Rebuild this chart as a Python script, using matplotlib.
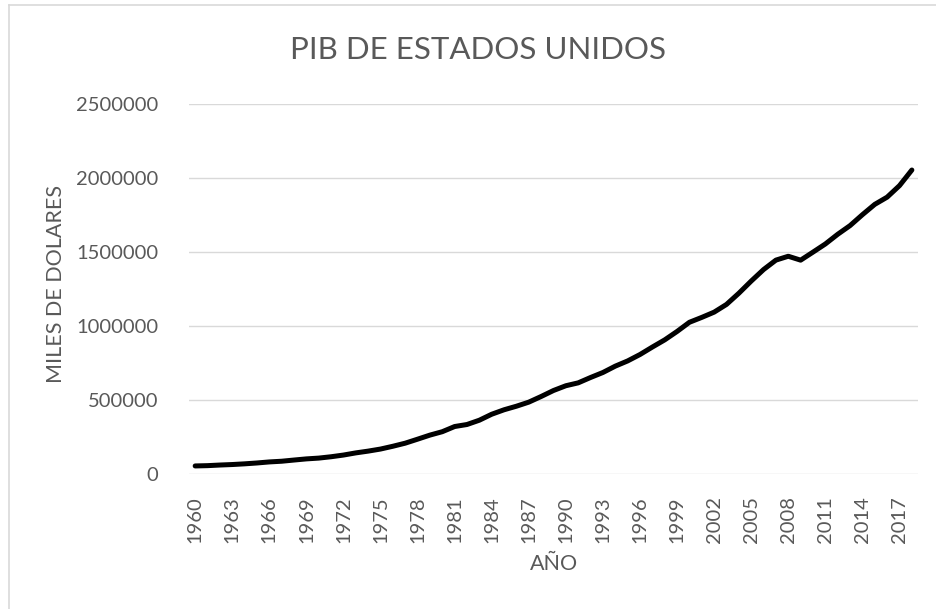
import matplotlib.pyplot as plt
from matplotlib.lines import Line2D
from matplotlib.ticker import FuncFormatter

# PIB de Estados Unidos (miles de dolares, como en el grafico original)
years = list(range(1960, 2019))
gdp = [
    54330, 56330, 60510, 63860, 68580, 74370, 81500, 86170, 94250, 101990,
    107330, 116490, 127910, 142540, 154520, 168490, 187340, 208180, 235160, 262730,
    285730, 320700, 334380, 363400, 403760, 433900, 457960, 485520, 523640, 564160,
    596310, 615810, 652030, 685860, 728720, 763970, 807310, 857760, 906280, 963120,
    1025100, 1058180, 1093640, 1145820, 1221370, 1303660, 1381460, 1445190, 1471280, 1444890,
    1499210, 1554260, 1619700, 1678490, 1752170, 1821930, 1870720, 1948540, 2054000,
]
yticks = [0, 500000, 1000000, 1500000, 2000000, 2500000]

plt.rcParams['font.family'] = ['Lato', 'DejaVu Sans']
txt = '#595959'

fig = plt.figure(figsize=(9.36, 6.09), dpi=100)
ax = fig.add_axes([0.2019, 0.2217, 0.7789, 0.6075])

x = list(range(len(years)))
ax.plot(x, gdp, color='black', linewidth=3.6, solid_capstyle='round', solid_joinstyle='round')

ax.set_xlim(-0.5, len(years) - 0.5)
ax.set_ylim(0, 2500000)
ax.set_yticks(yticks)
ax.yaxis.set_major_formatter(FuncFormatter(lambda v, p: f'{int(v)}'))
ax.set_xticks(x[::3])
ax.set_xticklabels([str(y) for y in years[::3]], rotation=90)

ax.grid(axis='y', color='#d9d9d9', linewidth=1.0)
ax.set_axisbelow(True)
for s in ax.spines.values():
    s.set_visible(False)
ax.tick_params(length=0, colors=txt, labelsize=14.5)
ax.tick_params(axis='y', pad=22)
ax.tick_params(axis='x', pad=16)

# titulo del eje y colocado a mano
ax.text(-0.1824, 0.5135, 'MILES DE DOLARES', color=txt, fontsize=15.5, rotation=90,
        ha='center', va='center', transform=ax.transAxes)
ax.set_xlabel('AÑO', color=txt, fontsize=15.5, labelpad=8)
fig.text(0.511, 0.918, 'PIB DE ESTADOS UNIDOS', color=txt, fontsize=22.5, ha='center', va='center')

# borde del area del grafico (solo arriba e izquierda visibles)
fig.add_artist(Line2D([8.5 / 936, 8.5 / 936], [0, 1 - 5 / 609], color='#d9d9d9', linewidth=1.2))
fig.add_artist(Line2D([8.5 / 936, 1], [1 - 5 / 609, 1 - 5 / 609], color='#d9d9d9', linewidth=1.2))

fig.savefig('out.png', dpi=100)
